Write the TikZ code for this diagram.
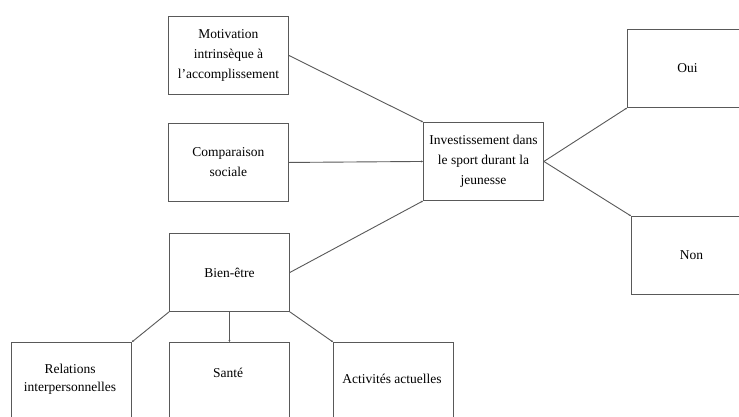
\documentclass[tikz,border=0pt]{standalone}
\usepackage{fontspec}
\setmainfont{Liberation Serif}
\usetikzlibrary{arrows.meta}
\begin{document}
\begin{tikzpicture}[x=1pt,y=-1pt,
  box/.style={draw=black!65, line width=0.9pt, minimum width=120pt, minimum height=78pt, inner sep=0pt, anchor=north west, align=center, font=\fontsize{13.5}{20}\selectfont},
  lbl/.style={align=center, font=\fontsize{13.5}{18}\selectfont, inner sep=0pt},
  link/.style={draw=black!65, line width=0.9pt, -{Stealth[length=2pt,width=2pt]}}]
\useasboundingbox[fill=white] (0,0) rectangle (739,416);
\node[box] (mot) at (168,16) {Motivation\\intrinsèque à\\l'accomplissement};
\node[box] (comp) at (168,123) {Comparaison\\sociale};
\node[box] (bien) at (169,233) {Bien-être};
\node[box] (inv) at (423,122) {Investissement dans\\le sport durant la\\jeunesse};
\node[box] (oui) at (627,29) {Oui};
\node[box] (non) at (631,216) {Non};
\node[box] (rel) at (11,342) {};
\node[box] (san) at (169,342) {};
\node[box] (act) at (333,342) {};
\node[lbl] (relt) at (70,379) {Relations\\interpersonnelles};
\node[lbl] (sant) at (228,373) {Santé};
\node[lbl] (actt) at (392,379) {Activités actuelles};
\draw[link] (mot.east) -- (inv.north west);
\draw[link] (comp.east) -- (inv.west);
\draw[link] (bien.east) -- (inv.south west);
\draw[link] (inv.east) -- (oui.south west);
\draw[link] (inv.east) -- (non.north west);
\draw[link] (bien.south west) -- (rel.north east);
\draw[link] (bien.south) -- (san.north);
\draw[link] (bien.south east) -- (act.north west);
\end{tikzpicture}
\end{document}
